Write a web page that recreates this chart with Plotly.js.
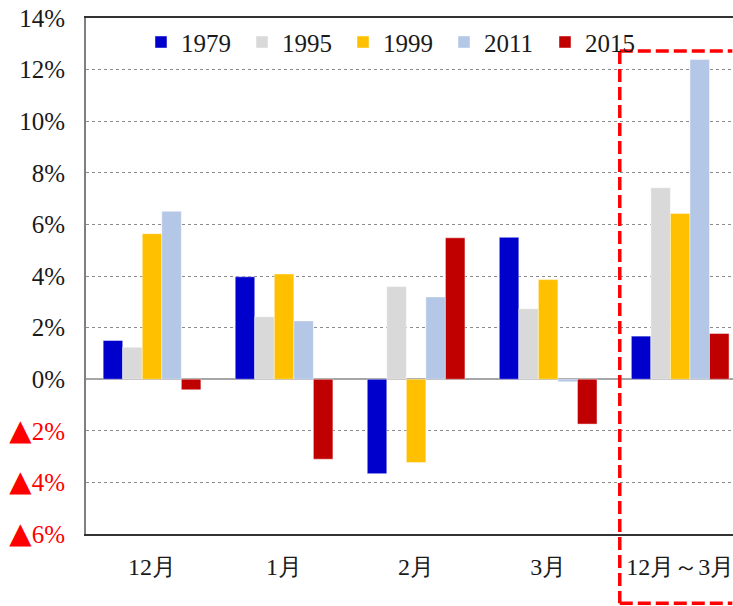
<!DOCTYPE html>
<html><head><meta charset="utf-8">
<script src="https://cdn.plot.ly/plotly-3.0.1.min.js"></script>
<style>html,body{margin:0;padding:0;overflow:hidden;background:#fff}</style>
</head><body>
<div id="chart" style="width:733px;height:606px"></div>
<script>
const categories = ['12月', '1月', '2月', '3月', '12月～3月'];
const seriesNames = ['1979', '1995', '1999', '2011', '2015'];
const v1979 = [1.50, 3.97, -3.66, 5.50, 1.67];
const v1995 = [1.24, 2.42, 3.59, 2.73, 7.42];
const v1999 = [5.64, 4.08, -3.23, 3.86, 6.42];
const v2011 = [6.51, 2.26, 3.19, -0.10, 12.39];
const v2015 = [-0.41, -3.10, 5.48, -1.74, 1.77];
const yTickVals = [-6, -4, -2, 0, 2, 4, 6, 8, 10, 12, 14];
const yTickText = ['▲6%', '▲4%', '▲2%', '0%', '2%', '4%', '6%', '8%', '10%', '12%', '14%'];

const colors = ['#0000CC', '#D9D9D9', '#FFC000', '#B4C7E7', '#C00000'];
const allValues = [v1979, v1995, v1999, v2011, v2015];
const FONT = 'Liberation Serif, Times New Roman, serif';

function styled(t, neg) {
  const body = t.replace('▲', '<span style="font-family:DejaVu Sans;font-size:29px">▲</span>');
  return '<span style="font-family:Liberation Serif;' + (neg ? 'color:#ff0000' : '') + '">' + body + '</span>';
}

const traces = seriesNames.map((name, i) => ({
  type: 'bar',
  name: name,
  x: categories.map((c, k) => k),
  y: allValues[i].map(v => v / 100),
  marker: {color: colors[i], line: {color: 'rgba(255,255,255,0.45)', width: 1}},
  hoverinfo: 'skip'
}));

const boxLine = {color: '#ff0000', width: 3.5, dash: '13px,5px'};

const layout = {
  width: 733, height: 606,
  margin: {l: 86, r: 0, t: 18, b: 72},
  paper_bgcolor: '#fff', plot_bgcolor: '#fff',
  font: {family: FONT, size: 24, color: '#1a1a1a'},
  barmode: 'group', bargap: 0.26, bargroupgap: 0,
  showlegend: true,
  legend: {orientation: 'h', x: 0.085, xanchor: 'left', y: 0.953, yanchor: 'middle',
           bgcolor: 'rgba(255,255,255,0)', font: {family: FONT, size: 25, color: '#1a1a1a'},
           itemwidth: 30, entrywidth: 56, entrywidthmode: 'pixels',
           tracegroupgap: 0, traceorder: 'normal'},
  xaxis: {
    range: [-0.5, 4.40], tickmode: 'array',
    tickvals: categories.map((c, k) => k), ticktext: categories.map(c => styled(c, false)),
    showgrid: false, zeroline: false, showline: true, mirror: true,
    linecolor: '#333', linewidth: 2, ticks: '', ticklabelstandoff: 10,
    ticklabeloverflow: 'allow',
    tickfont: {family: FONT, size: 24, color: '#1a1a1a'}
  },
  yaxis: {
    range: [-0.06, 0.14], tickmode: 'array',
    tickvals: yTickVals.map(v => v / 100), ticktext: yTickText.map((t, k) => styled(t, yTickVals[k] < 0)),
    showgrid: true, gridcolor: '#8c8c8c', griddash: 'dot', gridwidth: 1,
    zeroline: true, zerolinecolor: '#a6a6a6', zerolinewidth: 2,
    showline: true, linecolor: '#7f7f7f', linewidth: 2, mirror: false,
    ticks: '', ticklabelstandoff: 14,
    tickfont: {family: FONT, size: 25, color: '#1a1a1a'}
  },
  shapes: [
    {type: 'line', xref: 'paper', yref: 'paper', x0: 0.825, x1: 0.999, y0: 0.936, y1: 0.936, line: boxLine, layer: 'above'},
    {type: 'line', xref: 'paper', yref: 'paper', x0: 0.825, x1: 0.825, y0: 0.936, y1: -0.134, line: boxLine, layer: 'above'},
    {type: 'line', xref: 'paper', yref: 'paper', x0: 0.825, x1: 0.999, y0: -0.134, y1: -0.134, line: boxLine, layer: 'above'}
  ]
};

Plotly.newPlot('chart', traces, layout, {displayModeBar: false, staticPlot: true});
</script>
</body></html>
